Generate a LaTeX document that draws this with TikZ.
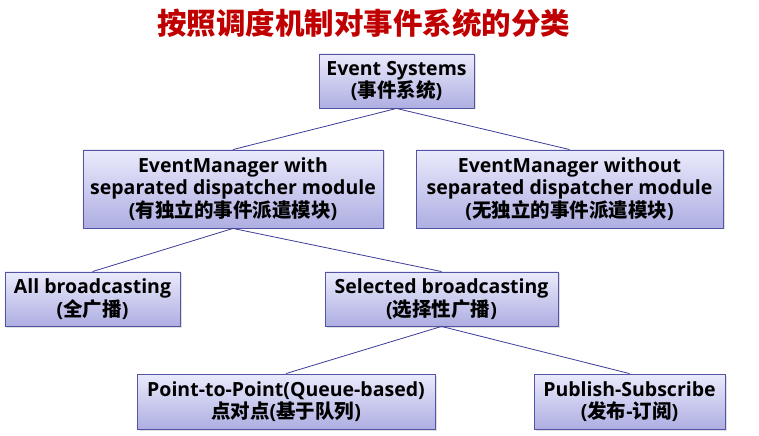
\documentclass[tikz,border=0pt]{standalone}
\usepackage{fontspec}
\setmainfont{Open Sans}
\newfontfamily\cjk{Noto Sans CJK SC}
\newcommand{\zh}[1]{{\cjk #1}}
\usetikzlibrary{shadows}
\definecolor{titlered}{RGB}{192,0,0}
\definecolor{boxborder}{RGB}{84,84,164}
\definecolor{boxtop}{RGB}{234,234,252}
\definecolor{boxbot}{RGB}{174,174,226}
\definecolor{linkcol}{RGB}{60,60,150}
\tikzset{
  catbox/.style={draw=boxborder, line width=0.9bp, rectangle, inner sep=0pt,
    top color=boxtop, bottom color=boxbot, align=center,
    font=\bfseries\fontsize{19.5bp}{22.5bp}\selectfont, text=black,
    drop shadow={shadow xshift=1.5bp, shadow yshift=-1.5bp, opacity=0.25}},
  link/.style={draw=linkcol, line width=0.8bp}
}
\begin{document}
\begin{tikzpicture}[x=1bp,y=-1bp]
\useasboundingbox (0,0) rectangle (759,436);
\node (title) at (363.5,23) [text=titlered, font=\cjk\bfseries\fontsize{29.5bp}{31bp}\selectfont] {按照调度机制对事件系统的分类};
\node[catbox, minimum width=155bp, minimum height=54bp] (root) at (396.5,81) {Event Systems\\(\zh{事件系统})};
\node[catbox, minimum width=300bp, minimum height=78bp] (wmod) at (233,189) {EventManager with\\separated dispatcher module\\(\zh{有独立的事件派遣模块})};
\node[catbox, minimum width=307bp, minimum height=78bp] (womod) at (569.5,189) {EventManager without\\separated dispatcher module\\(\zh{无独立的事件派遣模块})};
\node[catbox, minimum width=175bp, minimum height=54bp] (allb) at (92.5,299) {All broadcasting\\(\zh{全广播})};
\node[catbox, minimum width=233bp, minimum height=54bp] (selb) at (441.5,299) {Selected broadcasting\\(\zh{选择性广播})};
\node[catbox, minimum width=298bp, minimum height=55bp] (p2p) at (286,401.5) {Point-to-Point(Queue-based)\\\zh{点对点}(\zh{基于队列})};
\node[catbox, minimum width=191bp, minimum height=55bp] (pubsub) at (629.5,401.5) {Publish-Subscribe\\(\zh{发布}-\zh{订阅})};
\draw[link] (root.south) -- (wmod.north);
\draw[link] (root.south) -- (womod.north);
\draw[link] (wmod.south) -- (allb.north);
\draw[link] (wmod.south) -- (selb.north);
\draw[link] (selb.south) -- (p2p.north);
\draw[link] (selb.south) -- (pubsub.north);
\end{tikzpicture}
\end{document}
